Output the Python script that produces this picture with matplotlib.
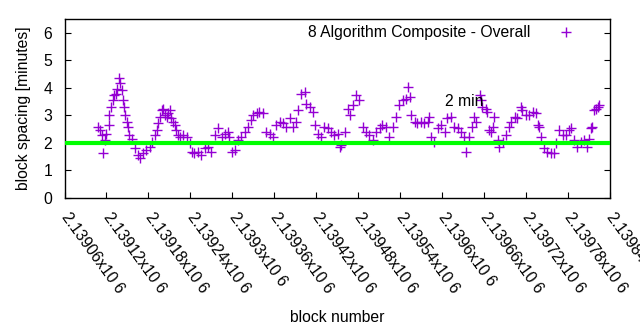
import numpy as np
import matplotlib
matplotlib.use("Agg")
import matplotlib.pyplot as plt

plt.rcParams["font.family"] = ["Liberation Sans", "DejaVu Sans"]

# moving block spacing (minutes) vs. block height
blocks = [
    2139108, 2139111, 2139113, 2139115, 2139118, 2139120, 2139123, 2139124,
    2139126, 2139129, 2139131, 2139134, 2139135, 2139138, 2139139, 2139142,
    2139143, 2139145, 2139147, 2139149, 2139151, 2139153, 2139156, 2139161,
    2139165, 2139168, 2139173, 2139177, 2139182, 2139185, 2139189, 2139192,
    2139194, 2139196, 2139199, 2139201, 2139204, 2139206, 2139208, 2139211,
    2139213, 2139215, 2139218, 2139220, 2139223, 2139225, 2139230, 2139235,
    2139239, 2139242, 2139246, 2139251, 2139256, 2139261, 2139265, 2139270,
    2139275, 2139280, 2139285, 2139289, 2139294, 2139296, 2139299, 2139304,
    2139308, 2139313, 2139318, 2139323, 2139327, 2139330, 2139335, 2139339,
    2139344, 2139349, 2139354, 2139358, 2139363, 2139368, 2139373, 2139377,
    2139382, 2139387, 2139392, 2139394, 2139399, 2139404, 2139406, 2139411,
    2139415, 2139418, 2139423, 2139427, 2139432, 2139437, 2139442, 2139446,
    2139451, 2139454, 2139456, 2139461, 2139465, 2139468, 2139473, 2139477,
    2139482, 2139487, 2139492, 2139496, 2139501, 2139506, 2139511, 2139515,
    2139520, 2139525, 2139530, 2139535, 2139539, 2139544, 2139549, 2139551,
    2139554, 2139556, 2139561, 2139565, 2139570, 2139575, 2139580, 2139582,
    2139585, 2139589, 2139594, 2139599, 2139604, 2139608, 2139613, 2139618,
    2139623, 2139627, 2139632, 2139635, 2139639, 2139643, 2139646, 2139649,
    2139654, 2139656, 2139658, 2139663, 2139665, 2139668, 2139670, 2139673,
    2139675, 2139680, 2139682, 2139687, 2139692, 2139696, 2139699, 2139704,
    2139708, 2139713, 2139715, 2139720, 2139725, 2139730, 2139735, 2139737,
    2139739, 2139742, 2139746, 2139751, 2139756, 2139761, 2139763, 2139768,
    2139773, 2139777, 2139782, 2139785, 2139789, 2139794, 2139799, 2139804,
    2139808, 2139811, 2139813, 2139815, 2139818, 2139820, 2139823, 2139825,
]
spacing = [
    2.58, 2.46, 2.28, 1.62, 2.10, 2.34, 2.64, 3.00,
    3.31, 3.55, 3.73, 3.79, 3.97, 4.34, 4.16, 3.91,
    3.55, 3.31, 3.00, 2.76, 2.58, 2.28, 2.16, 1.80,
    1.56, 1.44, 1.62, 1.74, 1.86, 2.04, 2.28, 2.46,
    2.71, 2.95, 3.19, 3.25, 3.00, 2.95, 3.07, 3.19,
    2.89, 2.76, 2.64, 2.46, 2.28, 2.22, 2.28, 2.22,
    1.98, 1.68, 1.62, 1.68, 1.56, 1.80, 1.86, 1.68,
    2.28, 2.53, 2.22, 2.34, 2.40, 2.22, 1.68, 1.74,
    2.10, 2.22, 2.40, 2.58, 2.83, 3.00, 3.07, 3.13,
    3.07, 2.40, 2.34, 2.22, 2.64, 2.76, 2.71, 2.58,
    2.89, 2.58, 2.76, 3.19, 3.79, 3.85, 3.43, 3.31,
    3.13, 2.64, 2.34, 2.22, 2.58, 2.53, 2.40, 2.28,
    2.34, 1.86, 1.92, 2.40, 3.25, 3.00, 3.37, 3.73,
    3.55, 2.58, 2.40, 2.28, 2.10, 2.40, 2.53, 2.64,
    2.58, 2.22, 2.58, 2.95, 3.37, 3.55, 3.61, 4.03,
    3.67, 3.00, 2.76, 2.71, 2.76, 2.71, 2.76, 2.95,
    2.22, 2.04, 2.53, 2.64, 2.40, 2.89, 2.95, 2.58,
    2.53, 2.40, 2.22, 1.68, 2.22, 2.58, 2.95, 2.76,
    3.73, 3.55, 3.31, 3.25, 3.13, 2.46, 2.40, 2.58,
    2.95, 2.10, 1.86, 2.04, 2.28, 2.58, 2.76, 2.95,
    2.89, 3.31, 3.19, 3.00, 3.00, 3.13, 3.07, 2.64,
    2.58, 2.22, 1.80, 1.68, 1.62, 1.62, 1.98, 2.46,
    2.28, 2.28, 2.46, 2.53, 2.10, 1.86, 2.04, 2.10,
    1.86, 2.16, 2.53, 2.58, 3.19, 3.25, 3.31, 3.37,
]
target_minutes = 2
xtick_blocks = list(range(2139060, 2139841, 60))
ytick_vals = [0, 1, 2, 3, 4, 5, 6]

FS = 11.3

fig = plt.figure(figsize=(6.4, 3.3), dpi=100)
ax = fig.add_axes([0.1008, 0.4, 0.8516, 0.5424])

ax.plot(blocks, spacing, linestyle="none", marker="+", markersize=7.5,
        markeredgewidth=1.0, color="#9400d3",
        label="8 Algorithm Composite - Overall")
ax.axhline(target_minutes, color="#00ff00", linewidth=3.0, zorder=3)
ax.text(2139605, 3.51, "2 min", fontsize=FS, va="center", ha="left",
        zorder=4)

ax.set_xlim(xtick_blocks[0], xtick_blocks[-1])
ax.set_ylim(0, 6.5)
ax.set_yticks(ytick_vals)
ax.set_xticks(xtick_blocks)
ax.set_xticklabels([f"{b / 1e6:g}x10 6" for b in xtick_blocks],
                   rotation=-54, ha="left", va="center",
                   rotation_mode="anchor", fontsize=FS)
ax.tick_params(axis="y", direction="in", right=True, labelsize=FS,
               pad=9, length=4)
ax.tick_params(axis="x", direction="in", top=False, pad=12, length=4)
for s in ax.spines.values():
    s.set_linewidth(1.0)

ax.set_xlabel("block number", fontsize=FS, labelpad=10)
ax.set_ylabel("block spacing [minutes]", fontsize=FS, labelpad=9)

ax.legend(loc="upper right", frameon=False, markerfirst=False,
          fontsize=FS, handlelength=2.0, handletextpad=1.3,
          borderaxespad=0.0, bbox_to_anchor=(0.9606, 1.0))

fig.savefig("out.png", dpi=100)
